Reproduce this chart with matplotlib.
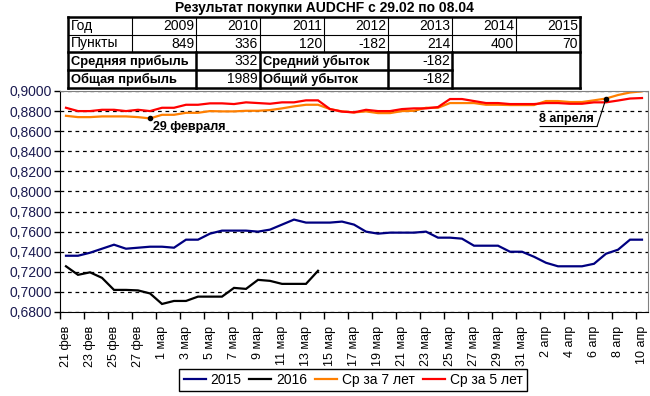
import matplotlib
matplotlib.use('Agg')
import matplotlib.pyplot as plt
from matplotlib.ticker import FuncFormatter
from matplotlib.transforms import offset_copy
import numpy as np

plt.rcParams['font.family'] = ['Liberation Sans', 'DejaVu Sans']

# Data
dates = ([f'{d} фев' for d in range(21, 29)]
         + [f'{d} мар' for d in range(1, 32)]
         + [f'{d} апр' for d in range(1, 11)])

y2015 = [0.736, 0.736, 0.739, 0.743, 0.747, 0.743, 0.744, 0.745, 0.745, 0.744,
         0.752, 0.752, 0.758, 0.761, 0.761, 0.761, 0.760, 0.762, 0.767, 0.772,
         0.769, 0.769, 0.769, 0.770, 0.767, 0.760, 0.758, 0.759, 0.759, 0.759,
         0.760, 0.754, 0.754, 0.753, 0.746, 0.746, 0.746, 0.740, 0.740, 0.735,
         0.729, 0.7255, 0.7255, 0.7255, 0.728, 0.738, 0.742, 0.752, 0.752]

y2016 = [0.7255, 0.717, 0.7195, 0.714, 0.702, 0.702, 0.7015, 0.6985, 0.688, 0.691,
         0.691, 0.6953, 0.6953, 0.6953, 0.704, 0.703, 0.712, 0.711, 0.708, 0.708,
         0.708, 0.721]

avg7 = [0.8753, 0.874, 0.874, 0.8747, 0.8747, 0.8747, 0.874, 0.8727, 0.8763, 0.8763,
        0.8783, 0.8783, 0.880, 0.8797, 0.8797, 0.8803, 0.8803, 0.881, 0.8827, 0.8847,
        0.8863, 0.8863, 0.882, 0.8797, 0.8787, 0.8797, 0.878, 0.878, 0.880, 0.8803,
        0.8833, 0.8833, 0.888, 0.888, 0.888, 0.8863, 0.8863, 0.886, 0.886, 0.886,
        0.890, 0.890, 0.889, 0.889, 0.8907, 0.8925, 0.896, 0.8985, 0.8997]

avg5 = [0.8833, 0.880, 0.880, 0.8813, 0.8813, 0.880, 0.8813, 0.880, 0.8833, 0.8833,
        0.8863, 0.8863, 0.8877, 0.8877, 0.887, 0.8887, 0.888, 0.8873, 0.8887, 0.8887,
        0.8907, 0.8907, 0.882, 0.8795, 0.8787, 0.8813, 0.880, 0.880, 0.882, 0.8827,
        0.8827, 0.884, 0.892, 0.892, 0.890, 0.888, 0.888, 0.887, 0.887, 0.887,
        0.888, 0.888, 0.8873, 0.8873, 0.8887, 0.8887, 0.8905, 0.8925, 0.893]

series_names = ['2015', '2016', 'Ср за 7 лет', 'Ср за 5 лет']
series_colors = ['#000080', '#000000', '#FF7F00', '#FF0000']

years = ['2009', '2010', '2011', '2012', '2013', '2014', '2015']
points = ['849', '336', '120', '-182', '214', '400', '70']
avg_profit, total_profit = '332', '1989'
avg_loss, total_loss = '-182', '-182'

start_idx, end_idx = 7, 45  # 29.02 .. 08.04 markers

W, H = 650, 396
fig = plt.figure(figsize=(W / 100, H / 100), dpi=100)
ax = fig.add_axes([60 / W, 1 - 312 / H, 588 / W, 221 / H])

x = np.arange(len(dates))
for ys, name, c in zip([y2015, y2016, avg7, avg5], series_names, series_colors):
    ax.plot(x[:len(ys)], ys, color=c, lw=1.6, label=name, solid_joinstyle='miter')

ax.set_xlim(-0.5, len(dates) - 0.5)
ax.set_ylim(0.68, 0.90)
ax.set_yticks(np.arange(0.68, 0.9001, 0.02))
ax.yaxis.set_major_formatter(FuncFormatter(lambda v, p: f'{v:.4f}'.replace('.', ',')))
ax.tick_params(axis='y', labelsize=10, labelcolor='#1a1a50', length=4, width=1, pad=2)
ax.yaxis.grid(True, linestyle=(0, (3, 3)), color='black', lw=0.9)

ax.set_xticks(np.arange(-0.5, len(dates), 2))
ax.set_xticklabels([])
ax.set_xticks(x[::2], minor=True)
ax.set_xticklabels(dates[::2], minor=True, rotation=90, va='top', ha='center')
ax.tick_params(axis='x', which='major', length=5, width=1)
ax.tick_params(axis='x', which='minor', length=0, labelsize=9, pad=10)

for s in ['left', 'bottom']:
    ax.spines[s].set_color('black')
for s in ['top', 'right']:
    ax.spines[s].set_color('#808080')

# annotations
ax.plot([start_idx, end_idx], [avg7[start_idx], avg7[end_idx]], 'o', color='black',
        ms=3, ls='none', zorder=5)
ax.annotate('29 февраля', xy=(start_idx, avg7[start_idx]), xytext=(3, -9),
            textcoords='offset pixels', fontsize=9, fontweight='bold', va='center')
ax.annotate('8 апреля', xy=(end_idx, avg7[end_idx]), xytext=(-40, -20),
            textcoords='offset pixels', fontsize=9, fontweight='bold', ha='center',
            va='center')
ax.annotate('', xy=(end_idx, avg7[end_idx]), xytext=(-9, -28), textcoords='offset pixels',
            arrowprops=dict(arrowstyle='-', lw=0.8, color='black', shrinkA=0, shrinkB=0))
ax.annotate('', xy=(end_idx, avg7[end_idx]),
            xycoords=offset_copy(ax.transData, fig=fig, x=-9, y=-28, units='dots'),
            xytext=(-57, 0), textcoords='offset pixels',
            arrowprops=dict(arrowstyle='-', lw=0.8, color='black', shrinkA=0, shrinkB=0))

# legend
fig.legend(loc='center', bbox_to_anchor=(353 / W, 1 - 380 / H), ncol=4, fontsize=10,
           frameon=True, fancybox=False, edgecolor='black', handlelength=1.6,
           handletextpad=0.35, columnspacing=0.55, borderpad=0.3, framealpha=1)
fig.legends[0].get_frame().set_linewidth(1)

# title and table
tab = fig.add_axes([0, 0, 1, 1], zorder=3)
tab.set_xlim(0, W)
tab.set_ylim(H, 0)
tab.axis('off')
tab.text(324, 8, 'Результат покупки AUDCHF с 29.02 по 08.04', ha='center', va='center',
         fontsize=10, fontweight='bold')

cols = [68, 132, 196, 260, 324, 388, 452, 516, 580]
rows = [17, 35, 52, 70, 88]
thin, thick = 0.8, 1.8
fs, fsb = 10, 9.3


def hline(y, x0, x1, lw):
    tab.plot([x0, x1], [y, y], color='black', lw=lw, solid_capstyle='projecting')


def vline(xv, y0, y1, lw):
    tab.plot([xv, xv], [y0, y1], color='black', lw=lw, solid_capstyle='projecting')


# rows 1-2
hline(rows[0], cols[0], cols[-1], thick)
hline(rows[1], cols[0], cols[-1], thin)
hline(rows[2], cols[0], cols[-1], thick)
vline(cols[0], rows[0], rows[4], thick)
vline(cols[-1], rows[0], rows[4], thick)
for cx in cols[1:-1]:
    vline(cx, rows[0], rows[2], thin)
# rows 3-4
hline(rows[3], cols[0], cols[6], thick)
hline(rows[4], cols[0], cols[-1], thick)
for cx in [cols[2], cols[3], cols[5], cols[6]]:
    vline(cx, rows[2], rows[4], thick)

ry = [(rows[i] + rows[i + 1]) / 2 for i in range(4)]
tab.text(cols[0] + 3, ry[0], 'Год', va='center', fontsize=fs)
tab.text(cols[0] + 3, ry[1], 'Пункты', va='center', fontsize=fs)
for i, (yr, pt) in enumerate(zip(years, points)):
    tab.text(cols[i + 2] - 2, ry[0], yr, va='center', ha='right', fontsize=fs)
    tab.text(cols[i + 2] - 2, ry[1], pt, va='center', ha='right', fontsize=fs)
tab.text(cols[0] + 3, ry[2], 'Средняя прибыль', va='center', fontsize=fsb, fontweight='bold')
tab.text(cols[0] + 3, ry[3], 'Общая прибыль', va='center', fontsize=fsb, fontweight='bold')
tab.text(cols[3] - 2, ry[2], avg_profit, va='center', ha='right', fontsize=fs)
tab.text(cols[3] - 2, ry[3], total_profit, va='center', ha='right', fontsize=fs)
tab.text(cols[3] + 3, ry[2], 'Средний убыток', va='center', fontsize=fsb, fontweight='bold')
tab.text(cols[3] + 3, ry[3], 'Общий убыток', va='center', fontsize=fsb, fontweight='bold')
tab.text(cols[6] - 2, ry[2], avg_loss, va='center', ha='right', fontsize=fs)
tab.text(cols[6] - 2, ry[3], total_loss, va='center', ha='right', fontsize=fs)

fig.savefig('out.png', dpi=100)
